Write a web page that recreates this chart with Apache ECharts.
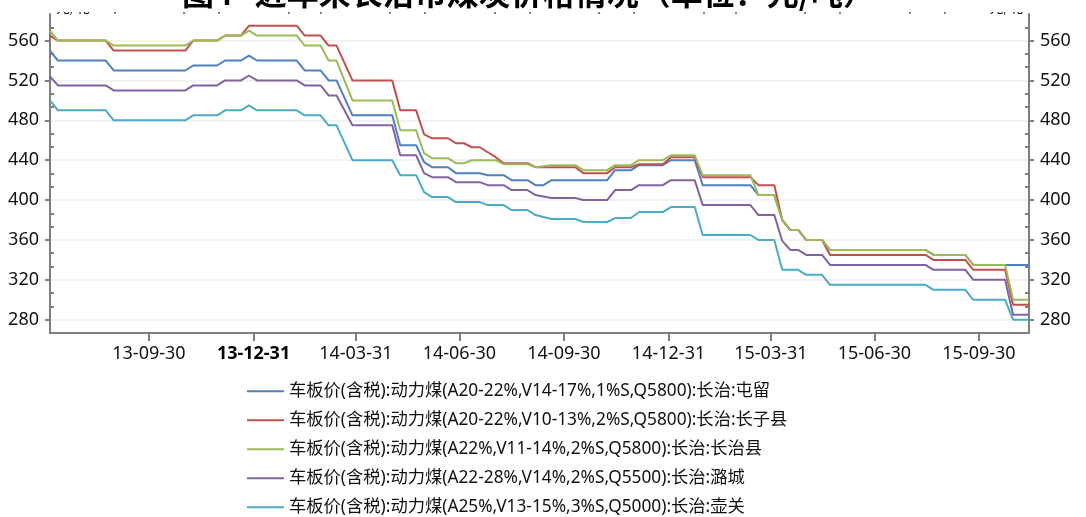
<!DOCTYPE html>
<html>
<head>
<meta charset="utf-8">
<script src="https://cdn.jsdelivr.net/npm/echarts@6/dist/echarts.min.js"></script>
<style>
html, body { margin: 0; padding: 0; background: #ffffff; }
#chart { width: 1086px; height: 517px; }
</style>
</head>
<body>
<div id="chart"></div>
<script>
// Weekly pit-head prices (tax included) in Changzhi, yuan per tonne.
// Each entry is [Friday of the week, price]; the line runs straight between them.
const tunliu = [
  ['2013-07-05',550],['2013-07-12',540],['2013-08-23',540],['2013-08-30',530],['2013-11-01',530],
  ['2013-11-08',535],['2013-11-29',535],['2013-12-06',540],['2013-12-20',540],['2013-12-27',545],
  ['2014-01-03',540],['2014-02-07',540],['2014-02-14',530],['2014-02-28',530],['2014-03-07',520],
  ['2014-03-14',520],['2014-03-28',485],['2014-05-02',485],['2014-05-09',455],['2014-05-23',455],
  ['2014-05-30',438],['2014-06-06',433],['2014-06-20',433],['2014-06-27',427],['2014-07-18',427],
  ['2014-07-25',425],['2014-08-08',425],['2014-08-15',420],['2014-08-29',420],['2014-09-05',415],
  ['2014-09-12',415],['2014-09-19',420],['2014-11-07',420],['2014-11-14',430],['2014-11-28',430],
  ['2014-12-05',435],['2014-12-26',435],['2015-01-02',440],['2015-01-23',440],['2015-01-30',415],
  ['2015-03-13',415],['2015-03-20',405],['2015-04-03',405],['2015-04-10',380],['2015-04-17',370],
  ['2015-04-24',370],['2015-05-01',360],['2015-05-15',360],['2015-05-22',350],['2015-08-14',350],
  ['2015-08-21',345],['2015-09-18',345],['2015-09-25',335],['2015-11-13',335]
];
const zhangzi = [
  ['2013-07-05',565],['2013-07-12',560],['2013-08-23',560],['2013-08-30',550],['2013-11-01',550],
  ['2013-11-08',560],['2013-11-29',560],['2013-12-06',565],['2013-12-20',565],['2013-12-27',575],
  ['2014-02-07',575],['2014-02-14',565],['2014-02-28',565],['2014-03-07',555],['2014-03-14',555],
  ['2014-03-28',520],['2014-05-02',520],['2014-05-09',490],['2014-05-23',490],['2014-05-30',466],
  ['2014-06-06',462],['2014-06-20',462],['2014-06-27',457],['2014-07-04',457],['2014-07-11',453],
  ['2014-07-18',453],['2014-07-25',448],['2014-08-01',443],['2014-08-08',437],['2014-08-29',437],
  ['2014-09-05',433],['2014-10-10',433],['2014-10-17',427],['2014-11-07',427],['2014-11-14',433],
  ['2014-11-28',433],['2014-12-05',436],['2014-12-26',436],['2015-01-02',443],['2015-01-23',443],
  ['2015-01-30',423],['2015-03-13',423],['2015-03-20',415],['2015-04-03',415],['2015-04-10',380],
  ['2015-04-17',370],['2015-04-24',370],['2015-05-01',360],['2015-05-15',360],['2015-05-22',345],
  ['2015-08-14',345],['2015-08-21',340],['2015-09-18',340],['2015-09-25',330],['2015-10-23',330],
  ['2015-10-30',295],['2015-11-13',295]
];
const zhangzhixian = [
  ['2013-07-05',570],['2013-07-12',560],['2013-08-23',560],['2013-08-30',555],['2013-11-01',555],
  ['2013-11-08',560],['2013-11-29',560],['2013-12-06',565],['2013-12-20',565],['2013-12-27',570],
  ['2014-01-03',565],['2014-02-07',565],['2014-02-14',555],['2014-02-28',555],['2014-03-07',540],
  ['2014-03-14',540],['2014-03-28',500],['2014-05-02',500],['2014-05-09',470],['2014-05-23',470],
  ['2014-05-30',447],['2014-06-06',442],['2014-06-20',442],['2014-06-27',437],['2014-07-04',437],
  ['2014-07-11',440],['2014-08-01',440],['2014-08-08',436],['2014-08-29',436],['2014-09-05',433],
  ['2014-09-19',435],['2014-10-10',435],['2014-10-17',430],['2014-11-07',430],['2014-11-14',435],
  ['2014-11-28',435],['2014-12-05',440],['2014-12-26',440],['2015-01-02',445],['2015-01-23',445],
  ['2015-01-30',425],['2015-03-13',425],['2015-03-20',405],['2015-04-03',405],['2015-04-10',380],
  ['2015-04-17',370],['2015-04-24',370],['2015-05-01',360],['2015-05-15',360],['2015-05-22',350],
  ['2015-08-14',350],['2015-08-21',345],['2015-09-18',345],['2015-09-25',335],['2015-10-23',335],
  ['2015-10-30',300],['2015-11-13',300]
];
const lucheng = [
  ['2013-07-05',524],['2013-07-12',515],['2013-08-23',515],['2013-08-30',510],['2013-11-01',510],
  ['2013-11-08',515],['2013-11-29',515],['2013-12-06',520],['2013-12-20',520],['2013-12-27',525],
  ['2014-01-03',520],['2014-02-07',520],['2014-02-14',515],['2014-02-28',515],['2014-03-07',505],
  ['2014-03-14',505],['2014-03-28',475],['2014-05-02',475],['2014-05-09',445],['2014-05-23',445],
  ['2014-05-30',427],['2014-06-06',423],['2014-06-20',423],['2014-06-27',418],['2014-07-18',418],
  ['2014-07-25',415],['2014-08-08',415],['2014-08-15',410],['2014-08-29',410],['2014-09-05',405],
  ['2014-09-19',402],['2014-10-10',402],['2014-10-17',400],['2014-11-07',400],['2014-11-14',410],
  ['2014-11-28',410],['2014-12-05',415],['2014-12-26',415],['2015-01-02',420],['2015-01-23',420],
  ['2015-01-30',395],['2015-03-13',395],['2015-03-20',385],['2015-04-03',385],['2015-04-10',359],
  ['2015-04-17',350],['2015-04-24',350],['2015-05-01',345],['2015-05-15',345],['2015-05-22',335],
  ['2015-08-14',335],['2015-08-21',330],['2015-09-18',330],['2015-09-25',320],['2015-10-23',320],
  ['2015-10-30',285],['2015-11-13',285]
];
const huguan = [
  ['2013-07-05',500],['2013-07-12',490],['2013-08-23',490],['2013-08-30',480],['2013-11-01',480],
  ['2013-11-08',485],['2013-11-29',485],['2013-12-06',490],['2013-12-20',490],['2013-12-27',495],
  ['2014-01-03',490],['2014-02-07',490],['2014-02-14',485],['2014-02-28',485],['2014-03-07',475],
  ['2014-03-14',475],['2014-03-28',440],['2014-05-02',440],['2014-05-09',425],['2014-05-23',425],
  ['2014-05-30',408],['2014-06-06',403],['2014-06-20',403],['2014-06-27',398],['2014-07-18',398],
  ['2014-07-25',395],['2014-08-08',395],['2014-08-15',390],['2014-08-29',390],['2014-09-05',385],
  ['2014-09-19',381],['2014-10-10',381],['2014-10-17',378],['2014-11-07',378],['2014-11-14',382],
  ['2014-11-28',382],['2014-12-05',388],['2014-12-26',388],['2015-01-02',393],['2015-01-23',393],
  ['2015-01-30',365],['2015-03-13',365],['2015-03-20',360],['2015-04-03',360],['2015-04-10',330],
  ['2015-04-24',330],['2015-05-01',325],['2015-05-15',325],['2015-05-22',315],['2015-08-14',315],
  ['2015-08-21',310],['2015-09-18',310],['2015-09-25',300],['2015-10-23',300],['2015-10-30',280],
  ['2015-11-13',280]
];

const seriesNames = [
  '车板价(含税):动力煤(A20-22%,V14-17%,1%S,Q5800):长治:屯留',
  '车板价(含税):动力煤(A20-22%,V10-13%,2%S,Q5800):长治:长子县',
  '车板价(含税):动力煤(A22%,V11-14%,2%S,Q5800):长治:长治县',
  '车板价(含税):动力煤(A22-28%,V14%,2%S,Q5500):长治:潞城',
  '车板价(含税):动力煤(A25%,V13-15%,3%S,Q5000):长治:壶关'
];
const seriesData = [tunliu, zhangzi, zhangzhixian, lucheng, huguan];
const seriesColors = ['#4f81bd', '#c0504d', '#9bbb59', '#8064a2', '#4bacc6'];

// Axis ticks: quarter ends carry labels, month ends get short ticks.
const quarterTicks = ['2013-09-30','2013-12-31','2014-03-31','2014-06-30','2014-09-30',
                      '2014-12-31','2015-03-31','2015-06-30','2015-09-30'];
const monthTicks = ['2013-07-31','2013-08-31','2013-10-31','2013-11-30','2014-01-31','2014-02-28',
                    '2014-04-30','2014-05-31','2014-07-31','2014-08-31','2014-10-31','2014-11-30',
                    '2015-01-31','2015-02-28','2015-04-30','2015-05-31','2015-07-31','2015-08-31',
                    '2015-10-31'];
const priceTicks = [280, 320, 360, 400, 440, 480, 520, 560];
const priceMinorTicks = [293.333, 306.667, 333.333, 346.667, 373.333, 386.667, 413.333, 426.667,
                         453.333, 466.667, 493.333, 506.667, 533.333, 546.667, 573.333];
const xStart = '2013-07-05';
const xEnd = '2015-11-13';
const yMin = 266.667;
const yMax = 586.667;

function ts(s) {
  const p = s.split('-').map(Number);
  return Date.UTC(p[0], p[1] - 1, p[2]);
}
function pad(n) { return (n < 10 ? '0' : '') + n; }
function fmtDate(v) {
  const d = new Date(v);
  return pad(d.getUTCFullYear() % 100) + '-' + pad(d.getUTCMonth() + 1) + '-' + pad(d.getUTCDate());
}

const FONT = '"Noto Sans", "Noto Sans CJK SC", sans-serif';
const CJK_FONT = '"Noto Sans CJK SC", sans-serif';
const axisGray = '#7f7f7f';
const textColor = '#111111';

const chart = echarts.init(document.getElementById('chart'), null, { renderer: 'canvas' });

const yAxisBase = { type: 'value', min: yMin, max: yMax, gridIndex: 0 };

chart.setOption({
  animation: false,
  backgroundColor: '#ffffff',
  textStyle: { fontFamily: FONT },
  title: {
    text: '图4   近年来长治市煤炭价格情况（单位：元/吨）',
    left: 182, top: -23, padding: 0, z: 20,
    textStyle: { fontFamily: CJK_FONT, fontSize: 32, fontWeight: 'bold', color: '#000' }
  },
  // strip along the top edge that trims the unit names above the axes
  graphic: [{
    type: 'rect', left: 0, top: 0, z: 10,
    shape: { width: 1086, height: 12 },
    style: { fill: '#ffffff' }
  }],
  grid: { left: 50, right: 57, top: 13, bottom: 184, containLabel: false },
  legend: {
    orient: 'vertical', left: 247, top: 382.5, height: 140, padding: 0,
    itemWidth: 37, itemHeight: 17, itemGap: 11.75,
    icon: 'path://M0,7.5 L37,7.5 L37,9.5 L0,9.5 Z',
    textStyle: { fontFamily: FONT, fontSize: 17.3, color: textColor, lineHeight: 17 },
    data: seriesNames
  },
  xAxis: [
    {
      type: 'value', min: ts(xStart), max: ts(xEnd),
      axisLine: { show: true, lineStyle: { color: axisGray, width: 2 } },
      axisTick: { show: true, length: 8, customValues: quarterTicks.map(ts),
                  lineStyle: { color: axisGray, width: 2 } },
      axisLabel: {
        customValues: quarterTicks.map(ts), margin: 12,
        fontFamily: FONT, fontSize: 18, color: textColor,
        formatter: function (v) {
          const s = fmtDate(v);
          return s === '13-12-31' ? '{b|' + s + '}' : s;
        },
        rich: { b: { fontFamily: FONT, fontSize: 18, fontWeight: 'bold', color: '#000' } }
      },
      splitLine: { show: false }
    },
    {
      type: 'value', min: ts(xStart), max: ts(xEnd),
      axisLine: { show: false },
      axisTick: { show: true, length: 4, customValues: monthTicks.map(ts),
                  lineStyle: { color: axisGray, width: 2 } },
      axisLabel: { show: false },
      splitLine: { show: false }
    }
  ],
  yAxis: [
    Object.assign({}, yAxisBase, {
      position: 'left',
      name: '元/吨', nameLocation: 'end', nameGap: 0,
      nameTextStyle: { fontFamily: CJK_FONT, fontSize: 14, color: textColor, align: 'left', padding: [0, 0, 0, 6] },
      axisLine: { show: true, lineStyle: { color: axisGray, width: 2 } },
      axisTick: { show: true, length: 5, customValues: priceTicks, lineStyle: { color: axisGray, width: 2 } },
      axisLabel: { customValues: priceTicks, margin: 11, fontFamily: FONT, fontSize: 18, color: textColor },
      splitLine: { show: true, lineStyle: { color: '#eeeeee', width: 1.5 } }
    }),
    Object.assign({}, yAxisBase, {
      position: 'left',
      axisLine: { show: false },
      axisTick: { show: true, inside: true, length: 4, customValues: priceMinorTicks,
                  lineStyle: { color: axisGray, width: 2 } },
      axisLabel: { show: false },
      splitLine: { show: false }
    }),
    Object.assign({}, yAxisBase, {
      position: 'right',
      name: '元/吨', nameLocation: 'end', nameGap: 0,
      nameTextStyle: { fontFamily: CJK_FONT, fontSize: 14, color: textColor, align: 'right', padding: [0, 6, 0, 0] },
      axisLine: { show: true, lineStyle: { color: axisGray, width: 2 } },
      axisTick: { show: true, length: 5, customValues: priceTicks, lineStyle: { color: axisGray, width: 2 } },
      axisLabel: { customValues: priceTicks, margin: 11, fontFamily: FONT, fontSize: 18, color: textColor },
      splitLine: { show: false }
    }),
    Object.assign({}, yAxisBase, {
      position: 'right',
      axisLine: { show: false },
      axisTick: { show: true, inside: true, length: 4, customValues: priceMinorTicks,
                  lineStyle: { color: axisGray, width: 2 } },
      axisLabel: { show: false },
      splitLine: { show: false }
    })
  ],
  series: seriesNames.map(function (name, i) {
    return {
      name: name,
      type: 'line',
      xAxisIndex: 0,
      yAxisIndex: 0,
      symbol: 'none',
      data: seriesData[i].map(function (p) { return [ts(p[0]), p[1]]; }),
      lineStyle: { color: seriesColors[i], width: 2 },
      itemStyle: { color: seriesColors[i] },
      z: 3 + i
    };
  })
});
</script>
</body>
</html>
